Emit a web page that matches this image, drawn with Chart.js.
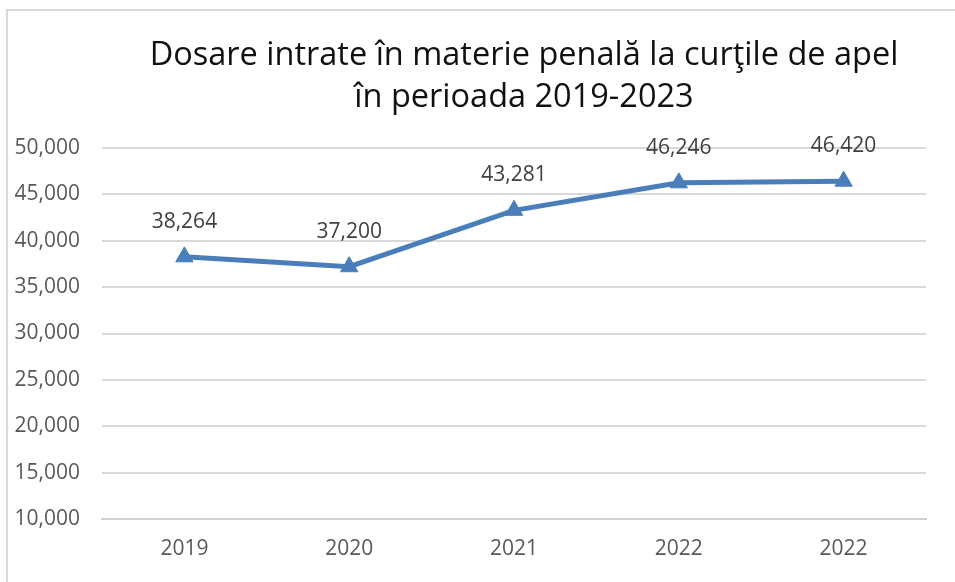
<!DOCTYPE html>
<html><head><meta charset="utf-8">
<script src="https://cdn.jsdelivr.net/npm/chart.js@4/dist/chart.umd.min.js"></script>
<style>html,body{margin:0;padding:0;background:#fff;overflow:hidden}</style>
</head><body>
<canvas id="c" width="955" height="582"></canvas>
<script>
const titleLines = ['Dosare intrate în materie penală la curţile de apel', 'în perioada 2019-2023'];
const categories = ['2019', '2020', '2021', '2022', '2022'];
const values = [38264, 37200, 43281, 46246, 46420];
const yMin = 10000, yMax = 50000, yStep = 5000;

const FONT = '"Open Sans", Lato, sans-serif';
const fmt = v => v.toLocaleString('en-US');

const framePlugin = {
  id: 'frame',
  beforeDraw(chart) {
    const ctx = chart.ctx;
    ctx.save();
    ctx.fillStyle = '#fff';
    ctx.fillRect(0, 0, chart.width, chart.height);
    ctx.strokeStyle = '#d9d9d9';
    ctx.lineWidth = 2;
    ctx.beginPath();
    ctx.moveTo(7, chart.height + 5);
    ctx.lineTo(7, 10);
    ctx.lineTo(chart.width + 5, 10);
    ctx.stroke();
    ctx.restore();
  }
};

const titlePlugin = {
  id: 'titleLines',
  afterDraw(chart) {
    const ctx = chart.ctx;
    ctx.save();
    ctx.fillStyle = '#111';
    ctx.font = '32.5px ' + FONT;
    ctx.textAlign = 'center';
    ctx.textBaseline = 'middle';
    titleLines.forEach((t, i) => ctx.fillText(t, 524, 56 + i * 42));
    ctx.restore();
  }
};

const labelPlugin = {
  id: 'valueLabels',
  afterDatasetsDraw(chart) {
    const ctx = chart.ctx;
    const meta = chart.getDatasetMeta(0);
    ctx.save();
    ctx.fillStyle = '#404040';
    ctx.font = '21px ' + FONT;
    ctx.textAlign = 'center';
    ctx.textBaseline = 'middle';
    meta.data.forEach((pt, i) => {
      ctx.fillText(fmt(values[i]), pt.x, pt.y - 35);
    });
    ctx.restore();
  }
};

new Chart(document.getElementById('c'), {
  type: 'line',
  data: {
    labels: categories,
    datasets: [{
      data: values,
      borderColor: '#4a7ebb',
      backgroundColor: '#4a7ebb',
      borderWidth: 5,
      pointStyle: 'triangle',
      pointRadius: 10,
      pointHoverRadius: 10,
      pointBorderWidth: 1,
      tension: 0,
      clip: false
    }]
  },
  options: {
    responsive: false,
    devicePixelRatio: 1,
    animation: false,
    events: [],
    layout: { padding: { top: 148, right: 29, bottom: 0, left: 0 } },
    plugins: { legend: { display: false }, title: { display: false }, tooltip: { enabled: false } },
    scales: {
      x: {
        offset: true,
        grid: { display: false, drawTicks: false },
        border: { display: true, color: '#d0d0d0', width: 2 },
        ticks: { color: '#595959', font: { family: FONT, size: 21 }, padding: 17, maxRotation: 0, autoSkip: false },
        afterFit(s) { s.height = 63; }
      },
      y: {
        min: yMin, max: yMax,
        grid: { color: '#d9d9d9', lineWidth: 2, drawTicks: false },
        border: { display: false },
        ticks: { stepSize: yStep, color: '#595959', font: { family: FONT, size: 21 }, padding: 22, callback: v => fmt(v) },
        afterFit(s) { s.width = 102; }
      }
    }
  },
  plugins: [framePlugin, titlePlugin, labelPlugin]
});
</script>
</body></html>
